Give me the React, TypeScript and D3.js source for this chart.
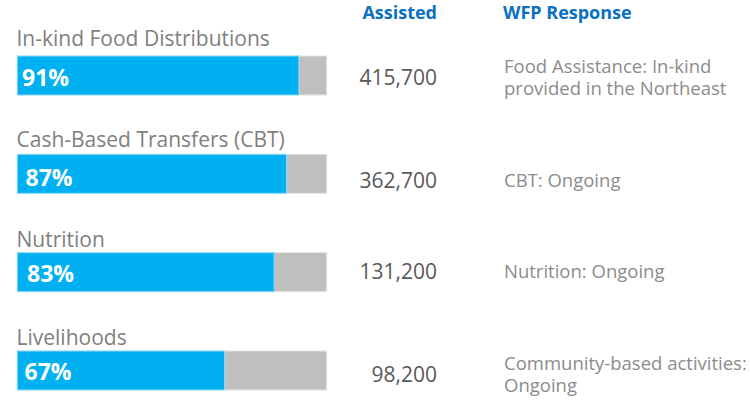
import React from "react";
import * as d3 from "d3";

const categories = [
  "In-kind Food Distributions",
  "Cash-Based Transfers (CBT)",
  "Nutrition",
  "Livelihoods",
];
const percentages = [91, 87, 83, 67];
const assisted = [415700, 362700, 131200, 98200];
const responses = [
  ["Food Assistance: In-kind", "provided in the Northeast"],
  ["CBT: Ongoing"],
  ["Nutrition: Ongoing"],
  ["Community-based activities:", "Ongoing"],
];
const headers = ["Assisted", "WFP Response"];

// layout (pixels)
const W = 750;
const H = 401;
const BAR_H = 39;
const labelGap = [10.3, 7.6, 5.6, 6];
const pctX = [22, 25.5, 27, 24.5];
const pctOffset = [29.7, 31.2, 29.4, 29];
const numOffset = [29, 34, 26.7, 30.7];
const respOffset = [17.3, 32.4, 25.7, 19];
const FONT = "'Open Sans', 'Noto Sans', sans-serif";

export default function App() {
  const x = d3.scaleLinear().domain([0, 100]).range([17.3, 326.7]);
  const y = d3.scalePoint<string>().domain(categories).range([56, 351]);
  const fmt = d3.format(",");

  return (
    <svg
      width={W}
      height={H}
      style={{ position: "absolute", left: 0, top: 0, background: "#fff" }}
      fontFamily={FONT}
    >
      <text x={437} y={19} textAnchor="end" fontWeight={700} fontSize={18} fill="#0a70c0">
        {headers[0]}
      </text>
      <text x={503} y={19} fontWeight={700} fontSize={18} fill="#0a70c0">
        {headers[1]}
      </text>
      {categories.map((c, i) => {
        const top = y(c) as number;
        return (
          <g key={c}>
            <text x={16.5} y={top - labelGap[i]} fontSize={21} fill="#7f7f7f">
              {c}
            </text>
            <rect
              x={x(0)}
              y={top}
              width={x(100) - x(0)}
              height={BAR_H}
              fill="#bfbfbf"
              stroke="#e4e4e4"
              strokeWidth={1}
            />
            <rect
              x={x(0)}
              y={top}
              width={x(percentages[i]) - x(0)}
              height={BAR_H}
              fill="#00b0f0"
              stroke="#8fdcf7"
              strokeWidth={1}
            />
            <text x={pctX[i]} y={top + pctOffset[i]} fontSize={23} fontWeight={700} fill="#ffffff">
              {percentages[i]}%
            </text>
            <text x={437} y={top + numOffset[i]} textAnchor="end" fontSize={21} fill="#595959">
              {fmt(assisted[i])}
            </text>
            {responses[i].map((line, j) => (
              <text
                key={j}
                x={504}
                y={top + respOffset[i] + j * 22}
                fontSize={18.5}
                fill="#8c8c8c"
              >
                {line}
              </text>
            ))}
          </g>
        );
      })}
    </svg>
  );
}
